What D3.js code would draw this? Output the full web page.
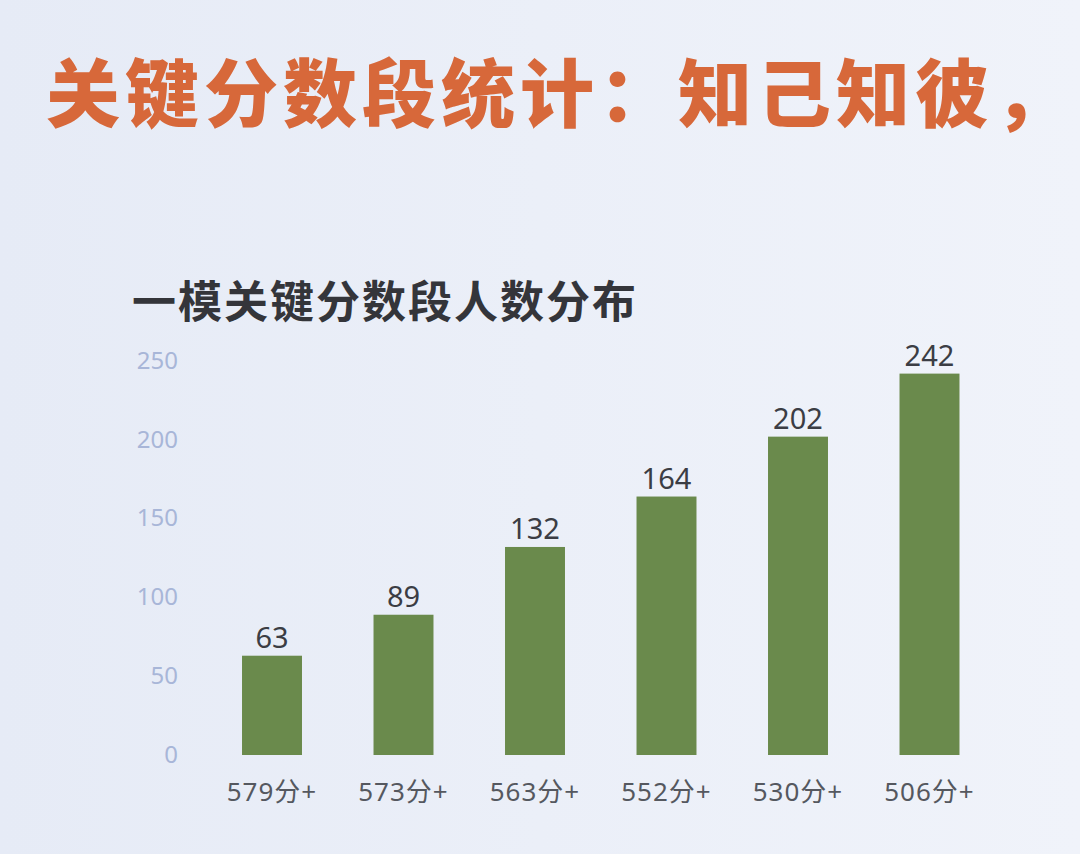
<!DOCTYPE html>
<html><head><meta charset="utf-8">
<script src="https://cdn.jsdelivr.net/npm/d3@7"></script>
<style>html,body{margin:0;padding:0;overflow:hidden;}</style>
</head><body>
<svg id="c" width="1080" height="854"></svg>
<script>
const title = "关键分数段统计：知己知彼，";
const subtitle = "一模关键分数段人数分布";
const categories = ["579分+","573分+","563分+","552分+","530分+","506分+"];
const values = [63, 89, 132, 164, 202, 242];
const yTicks = [0, 50, 100, 150, 200, 250];

const svg = d3.select("#c");
const defs = svg.append("defs");
const g = defs.append("linearGradient").attr("id","bg").attr("x1","0").attr("x2","1").attr("y1","0").attr("y2","0");
g.append("stop").attr("offset","0").attr("stop-color","#e6ebf6");
g.append("stop").attr("offset","1").attr("stop-color","#f0f3fa");
svg.append("rect").attr("width",1080).attr("height",854).attr("fill","url(#bg)");

svg.append("text").attr("x",46).attr("y",121)
  .attr("font-family","'Noto Sans CJK SC', sans-serif").attr("font-weight",900)
  .attr("font-size",74).attr("letter-spacing",5).attr("fill","#d7683a").text(title);

svg.append("text").attr("x",132).attr("y",318)
  .attr("font-family","'Noto Sans CJK SC', sans-serif").attr("font-weight",700)
  .attr("font-size",44).attr("letter-spacing",2).attr("fill","#34353a").text(subtitle);

const x = d3.scaleBand().domain(categories).range([206.25, 995.25]).paddingInner(0.544).paddingOuter(0.272);
const y = d3.scaleLinear().domain([0,250]).range([755, 361]);

const yAxis = svg.append("g").attr("transform","translate(178,0)")
  .call(d3.axisLeft(y).tickValues(yTicks).tickSize(0).tickPadding(0));
yAxis.select(".domain").remove();
yAxis.selectAll("text").attr("font-family","'Noto Sans', sans-serif").attr("font-size",24)
  .attr("fill","#a8b6d8").attr("dy","0.3em");

const xAxis = svg.append("g").attr("transform","translate(0,755)")
  .call(d3.axisBottom(x).tickSize(0).tickPadding(28));
xAxis.select(".domain").remove();
xAxis.selectAll("text").attr("font-family","'Noto Sans', 'Noto Sans CJK SC', sans-serif").attr("font-size",26)
  .attr("letter-spacing",1).attr("fill","#55585f");

svg.append("g").selectAll("rect").data(values).join("rect")
  .attr("x",(d,i)=>x(categories[i])).attr("width",x.bandwidth())
  .attr("y",d=>y(d)).attr("height",d=>y(0)-y(d)).attr("fill","#6a8a4c");

svg.append("g").selectAll("text").data(values).join("text")
  .attr("x",(d,i)=>x(categories[i])+x.bandwidth()/2).attr("y",d=>y(d)-8)
  .attr("text-anchor","middle").attr("font-family","'Noto Sans', sans-serif")
  .attr("font-size",29).attr("fill","#3b3d44").text(d=>d);
</script>
</body></html>
